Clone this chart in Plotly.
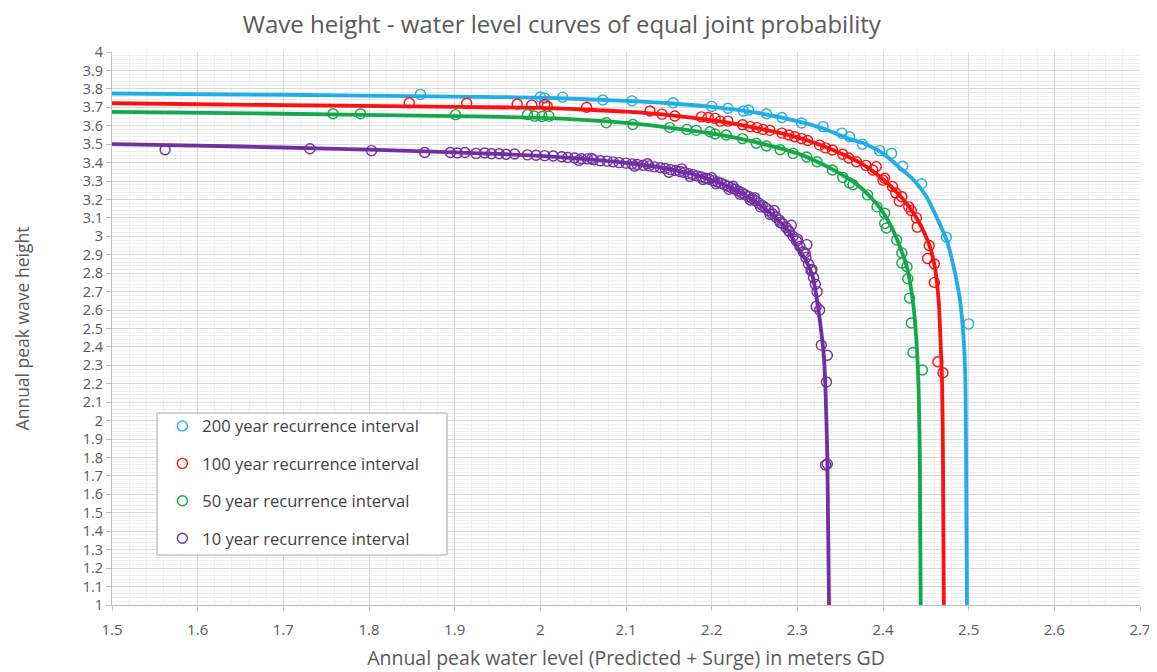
import plotly.graph_objects as go

# ---------------- data ----------------
series_names = ["200 year recurrence interval", "100 year recurrence interval",
                "50 year recurrence interval", "10 year recurrence interval"]
series_colors = ["#1FAEE6", "#FF1010", "#14A84A", "#7030A0"]

# fitted curves
c200_x = [1.50, 1.70, 1.90, 2.00, 2.10, 2.15, 2.20, 2.25, 2.30, 2.33, 2.36, 2.38, 2.40, 2.42, 2.435, 2.45, 2.465, 2.475, 2.485, 2.490, 2.494, 2.496, 2.497, 2.498]
c200_y = [3.775, 3.768, 3.758, 3.752, 3.735, 3.722, 3.702, 3.672, 3.625, 3.585, 3.530, 3.500, 3.450, 3.370, 3.310, 3.220, 3.080, 2.970, 2.780, 2.650, 2.450, 2.250, 1.800, 1.000]

c100_x = [1.50, 1.70, 1.90, 2.00, 2.05, 2.10, 2.15, 2.20, 2.25, 2.30, 2.33, 2.36, 2.38, 2.40, 2.42, 2.435, 2.445, 2.455, 2.461, 2.465, 2.467, 2.469, 2.470, 2.471]
c100_y = [3.722, 3.712, 3.702, 3.697, 3.688, 3.676, 3.658, 3.630, 3.590, 3.537, 3.490, 3.430, 3.380, 3.310, 3.220, 3.130, 3.050, 2.940, 2.820, 2.650, 2.450, 2.200, 1.800, 1.000]

c50_x = [1.50, 1.70, 1.90, 2.00, 2.05, 2.10, 2.15, 2.20, 2.25, 2.30, 2.33, 2.35, 2.37, 2.39, 2.40, 2.41, 2.42, 2.428, 2.434, 2.438, 2.441, 2.443, 2.444]
c50_y = [3.675, 3.665, 3.652, 3.643, 3.632, 3.615, 3.590, 3.558, 3.512, 3.450, 3.390, 3.340, 3.280, 3.190, 3.130, 3.050, 2.940, 2.830, 2.680, 2.500, 2.250, 1.800, 1.000]

c10_x = [1.50, 1.60, 1.70, 1.80, 1.90, 1.95, 2.00, 2.05, 2.10, 2.15, 2.18, 2.20, 2.22, 2.24, 2.26, 2.275, 2.29, 2.30, 2.31, 2.318, 2.324, 2.328, 2.331, 2.333, 2.335, 2.336, 2.337]
c10_y = [3.500, 3.492, 3.482, 3.470, 3.455, 3.447, 3.436, 3.420, 3.398, 3.365, 3.335, 3.305, 3.268, 3.220, 3.158, 3.100, 3.025, 2.940, 2.870, 2.780, 2.620, 2.480, 2.350, 2.150, 1.800, 1.400, 1.000]

# observed points (open circles)
p200_x = [1.860, 2.000, 2.005, 2.026, 2.073, 2.107, 2.155, 2.200, 2.219, 2.237, 2.243, 2.264, 2.282, 2.305, 2.330, 2.352, 2.361, 2.376, 2.396, 2.410, 2.423, 2.445, 2.474, 2.500]
p200_y = [3.770, 3.756, 3.750, 3.755, 3.740, 3.735, 3.725, 3.705, 3.695, 3.680, 3.685, 3.665, 3.645, 3.615, 3.595, 3.560, 3.540, 3.500, 3.465, 3.450, 3.380, 3.285, 2.995, 2.525]

p100_x = [1.847, 1.914, 1.973, 1.990, 2.005, 2.008, 2.054, 2.128, 2.142, 2.157, 2.188, 2.196, 2.204, 2.210, 2.219, 2.236, 2.245, 2.253, 2.260, 2.268, 2.282, 2.290, 2.297, 2.305, 2.312, 2.326, 2.333, 2.341, 2.353, 2.360, 2.369, 2.380, 2.388, 2.392, 2.400, 2.402, 2.411, 2.415, 2.419, 2.422, 2.430, 2.433, 2.439, 2.440, 2.452, 2.454, 2.460, 2.460, 2.464, 2.470]
p100_y = [3.725, 3.722, 3.718, 3.712, 3.715, 3.705, 3.700, 3.680, 3.663, 3.653, 3.648, 3.645, 3.640, 3.625, 3.625, 3.605, 3.595, 3.590, 3.580, 3.575, 3.560, 3.550, 3.540, 3.530, 3.520, 3.495, 3.480, 3.468, 3.445, 3.425, 3.405, 3.385, 3.360, 3.378, 3.305, 3.315, 3.270, 3.235, 3.190, 3.215, 3.160, 3.140, 3.100, 3.050, 2.880, 2.950, 2.850, 2.750, 2.320, 2.260]

p50_x = [1.758, 1.790, 1.901, 1.985, 1.993, 2.002, 2.010, 2.077, 2.108, 2.151, 2.171, 2.182, 2.198, 2.204, 2.217, 2.236, 2.252, 2.264, 2.280, 2.295, 2.311, 2.323, 2.341, 2.353, 2.361, 2.365, 2.382, 2.393, 2.402, 2.402, 2.404, 2.416, 2.422, 2.422, 2.428, 2.429, 2.431, 2.433, 2.435, 2.446]
p50_y = [3.665, 3.665, 3.660, 3.660, 3.652, 3.650, 3.652, 3.616, 3.607, 3.590, 3.580, 3.575, 3.567, 3.555, 3.550, 3.530, 3.505, 3.490, 3.470, 3.450, 3.430, 3.405, 3.360, 3.320, 3.290, 3.280, 3.225, 3.160, 3.125, 3.070, 3.045, 2.980, 2.910, 2.855, 2.835, 2.770, 2.665, 2.530, 2.370, 2.275]

p10_x = [1.562, 1.731, 1.803, 1.865, 1.895, 1.903, 1.912, 1.925, 1.935, 1.943, 1.952, 1.960, 1.970, 1.985, 1.995, 2.005, 2.015, 2.025, 2.032, 2.040, 2.048, 2.055, 2.062, 2.070, 2.078, 2.085, 2.092, 2.100, 2.107, 2.113, 2.120, 2.127, 2.133, 2.140, 2.146, 2.152, 2.158, 2.163, 2.168, 2.173, 2.178, 2.183, 2.188, 2.193, 2.197, 2.202, 2.207, 2.211, 2.215, 2.219, 2.223, 2.227, 2.231, 2.235, 2.239, 2.243, 2.247, 2.251, 2.255, 2.259, 2.263, 2.267, 2.271, 2.275, 2.279, 2.283, 2.287, 2.291, 2.295, 2.299, 2.303, 2.307, 2.310, 2.313, 2.316, 2.319, 2.321, 2.323, 2.322, 2.326, 2.328, 2.335, 2.334, 2.335, 2.333,
        2.045, 2.110, 2.150, 2.175, 2.190, 2.205, 2.220, 2.233, 2.245, 2.257, 2.268, 2.280, 2.290, 2.300, 2.309, 2.317, 2.060, 2.125, 2.165, 2.200, 2.225, 2.250, 2.273, 2.293, 2.311]
p10_y = [3.470, 3.475, 3.465, 3.455, 3.455, 3.452, 3.455, 3.450, 3.452, 3.448, 3.448, 3.445, 3.447, 3.442, 3.440, 3.438, 3.436, 3.432, 3.428, 3.425, 3.421, 3.420, 3.415, 3.410, 3.408, 3.404, 3.400, 3.397, 3.393, 3.390, 3.386, 3.382, 3.377, 3.372, 3.368, 3.362, 3.357, 3.352, 3.346, 3.340, 3.335, 3.328, 3.322, 3.315, 3.310, 3.302, 3.295, 3.288, 3.280, 3.272, 3.264, 3.255, 3.246, 3.237, 3.226, 3.216, 3.205, 3.193, 3.180, 3.168, 3.155, 3.138, 3.122, 3.105, 3.088, 3.068, 3.048, 3.025, 3.000, 2.975, 2.945, 2.915, 2.885, 2.850, 2.815, 2.775, 2.740, 2.700, 2.620, 2.600, 2.410, 2.355, 2.210, 1.765, 1.760,
        3.412, 3.381, 3.348, 3.325, 3.308, 3.285, 3.255, 3.228, 3.197, 3.160, 3.120, 3.075, 3.030, 2.985, 2.910, 2.820, 3.422, 3.394, 3.366, 3.318, 3.272, 3.210, 3.140, 3.060, 2.955]

curves = [(c200_x, c200_y), (c100_x, c100_y), (c50_x, c50_y), (c10_x, c10_y)]
points = [(p200_x, p200_y), (p100_x, p100_y), (p50_x, p50_y), (p10_x, p10_y)]

x_range = [1.5, 2.7]
y_range = [1.0, 4.0]

# ---------------- figure ----------------
fig = go.Figure()

for i in range(4):
    cx, cy = curves[i]
    fig.add_trace(go.Scatter(x=cx, y=cy, mode="lines",
                             line=dict(color=series_colors[i], width=3.8, shape="spline", smoothing=0.8),
                             showlegend=False, hoverinfo="skip"))

for i in range(4):
    px_, py_ = points[i]
    fig.add_trace(go.Scatter(x=px_, y=py_, mode="markers", name=series_names[i],
                             legendgroup=f"g{i}",
                             marker=dict(symbol="circle-open", size=10, color=series_colors[i],
                                         line=dict(width=1.4, color=series_colors[i]))))

font_family = "Open Sans, Liberation Sans, sans-serif"
grid_major = "#D9D9D9"
grid_minor = "#EEEEEE"

# page body has an 8px margin, so the figure is sized/offset to compensate
fig.update_layout(
    width=1149, height=664,
    margin=dict(l=104, r=17, t=44, b=67),
    paper_bgcolor="white", plot_bgcolor="white",
    font=dict(family=font_family, color="#595959", size=15),
    title=dict(text="Wave height - water level curves of equal joint probability",
               x=0.482, xanchor="center", y=0.975, yanchor="middle",
               font=dict(size=24, color="#595959", family=font_family)),
    showlegend=True,
    legend=dict(x=0.049, y=0.355, xanchor="left", yanchor="top",
                bgcolor="rgba(0,0,0,0)", borderwidth=0,
                traceorder="grouped", tracegroupgap=13,
                font=dict(size=16.5, color="#404040", family=font_family),
                itemwidth=30),
    shapes=[dict(type="rect", xref="paper", yref="paper",
                 x0=0.0438, x1=0.3259, y0=0.0904, y1=0.3472,
                 fillcolor="white", line=dict(color="#A6A6A6", width=1), layer="above")],
)

fig.update_xaxes(
    range=x_range, dtick=0.1, tick0=1.5, automargin=False,
    showgrid=True, gridcolor=grid_major, gridwidth=1,
    minor=dict(dtick=0.02, showgrid=True, gridcolor=grid_minor, gridwidth=1),
    showline=True, linecolor="#BFBFBF", linewidth=1,
    ticks="outside", ticklen=5, tickcolor="#BFBFBF", ticklabelstandoff=6,
    tickfont=dict(size=15, color="#595959"),
    zeroline=False,
    title=dict(text="Annual peak water level (Predicted + Surge) in meters GD",
               font=dict(size=19.5, color="#595959"), standoff=13),
)
fig.update_yaxes(
    range=y_range, dtick=0.1, tick0=1.0, automargin=False,
    showgrid=True, gridcolor=grid_major, gridwidth=1,
    minor=dict(dtick=0.02, showgrid=True, gridcolor=grid_minor, gridwidth=1),
    showline=True, linecolor="#BFBFBF", linewidth=1,
    ticks="outside", ticklen=5, tickcolor="#BFBFBF",
    tickfont=dict(size=14.5, color="#595959"),
    zeroline=False,
    title=dict(text="Annual peak wave height",
               font=dict(size=17.5, color="#595959"), standoff=48),
)

fig.write_html("out.html")
